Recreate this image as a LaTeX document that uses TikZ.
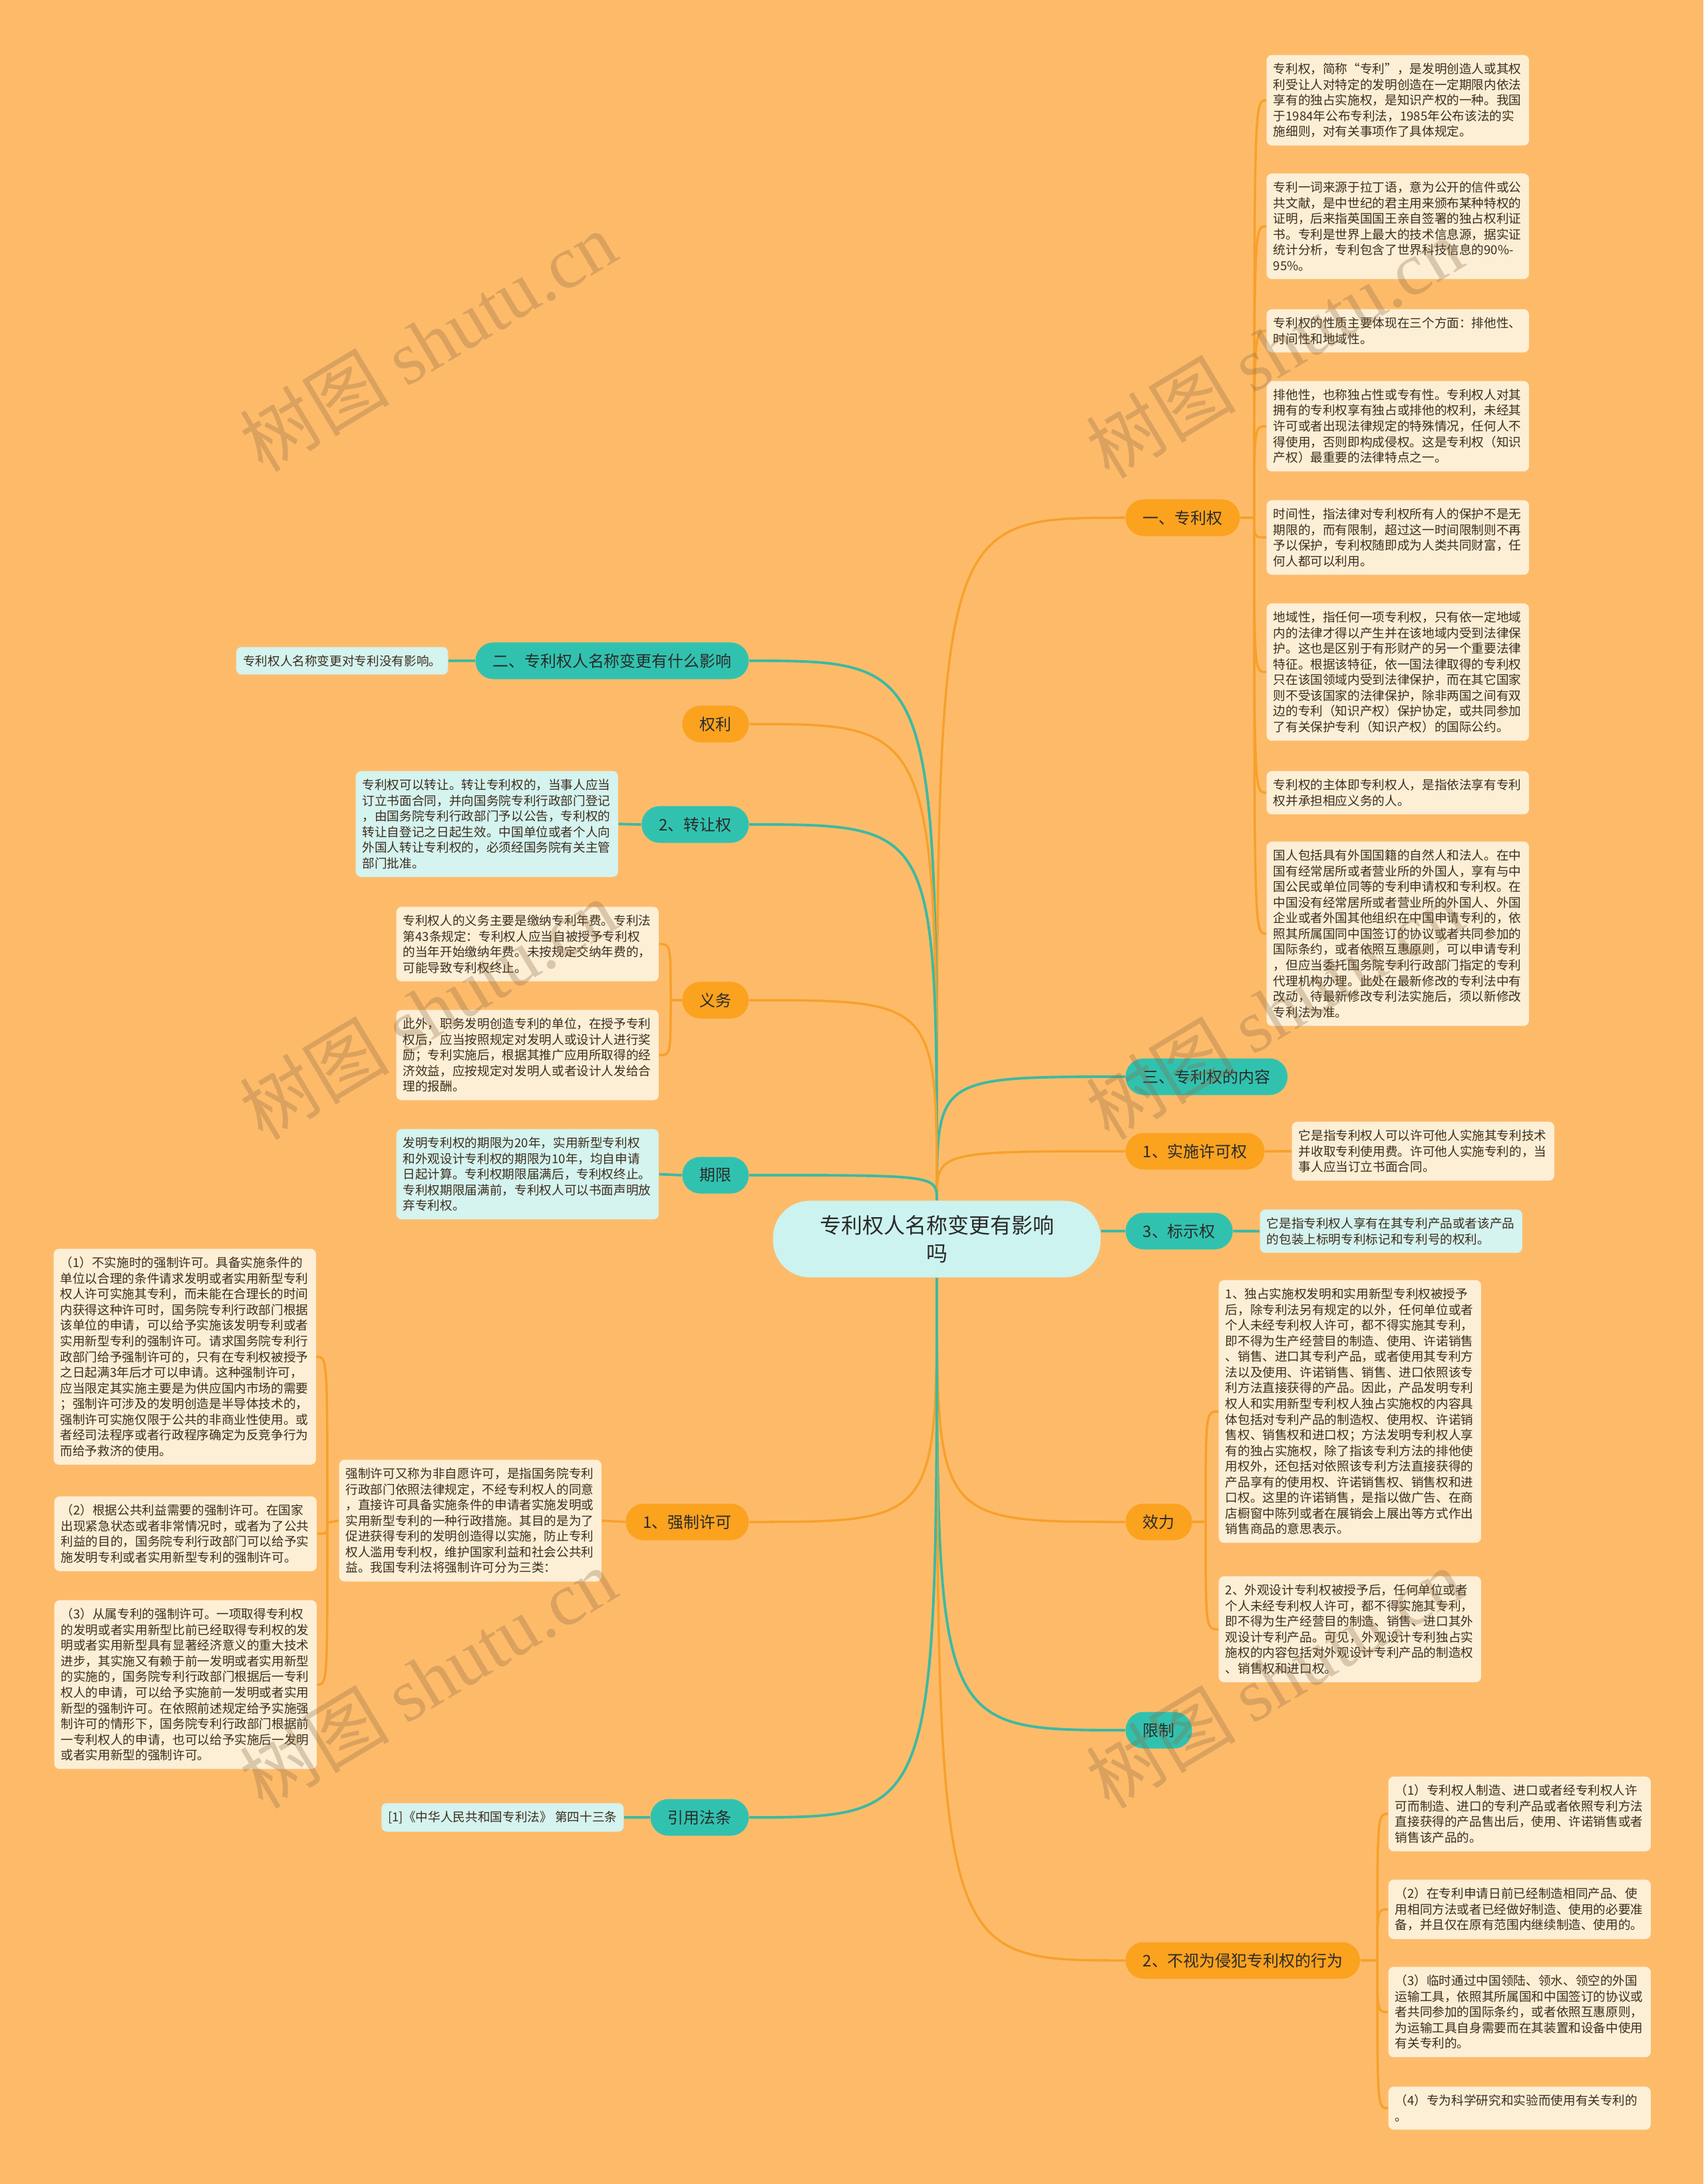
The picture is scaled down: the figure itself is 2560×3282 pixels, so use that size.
\documentclass[tikz,border=0pt]{standalone}
\usepackage{fontspec}
\setmainfont{Noto Sans CJK SC}
\newfontfamily\markfont{Liberation Serif}
\usepackage{tikz}
\usetikzlibrary{calc}
\definecolor{MapBg}{HTML}{FDBB6A}
\definecolor{MapOrange}{HTML}{FBA21F}
\definecolor{MapTeal}{HTML}{31C2AF}
\definecolor{LineOrange}{HTML}{F7A12B}
\definecolor{LineTeal}{HTML}{3CB9A3}
\definecolor{NoteCream}{HTML}{FDEFD6}
\definecolor{NoteCyan}{HTML}{D5F3EF}
\definecolor{RootFill}{HTML}{CCF3EF}
\definecolor{MapInk}{HTML}{2A2A2A}
\definecolor{NoteInk}{HTML}{3B2E1E}
\definecolor{MarkInk}{HTML}{8B6B45}
\tikzset{
  olink/.style={line width=1pt, draw=LineOrange},
  tlink/.style={line width=1.1pt, draw=LineTeal},
  root/.style={rounded corners=0.55cm, fill=RootFill, minimum width=4.92cm, minimum height=1.15cm,
               align=center, text=MapInk, font=\fontsize{9.1}{12}\selectfont},
  branch/.style={rounded corners=0.27cm, minimum height=0.55cm, inner xsep=0.26cm, inner ysep=0pt,
                 text=MapInk, font=\fontsize{6.8}{8}\selectfont},
  obranch/.style={branch, fill=MapOrange},
  tbranch/.style={branch, fill=MapTeal},
  note/.style={rounded corners=0.08cm, text width=3.74cm, inner xsep=0.1cm, inner ysep=0.12cm,
               align=left, text=NoteInk, font=\fontsize{5.3}{6.7}\selectfont},
  cnote/.style={note, fill=NoteCream},
  tnote/.style={note, fill=NoteCyan},
  wmark/.style={rotate=31, text=MarkInk, opacity=0.3, font=\fontsize{32}{32}\selectfont},
}
\begin{document}
\begin{tikzpicture}[x=0.01cm,y=-0.01cm]
    \fill[MapBg] (0,0) rectangle (2560,3282);
    \useasboundingbox (0,0) rectangle (2560,3282);

    \node[root] (c) at (1408,1862) {专利权人名称变更有影响\\吗};

    \node[obranch,anchor=west] (zl) at (1691,778) {一、专利权};
    \node[tbranch,anchor=west] (nr) at (1691,1618) {三、专利权的内容};
    \node[obranch,anchor=west] (sx) at (1691,1730) {1、实施许可权};
    \node[tbranch,anchor=west] (bs) at (1691,1850) {3、标示权};
    \node[obranch,anchor=west] (xl) at (1691,2287) {效力};
    \node[tbranch,anchor=west] (xz) at (1691,2600) {限制};
    \node[obranch,anchor=west] (bq) at (1691,2946) {2、不视为侵犯专利权的行为};

    \node[tbranch,anchor=east] (er) at (1126,993) {二、专利权人名称变更有什么影响};
    \node[obranch,anchor=east] (ql) at (1126,1088) {权利};
    \node[tbranch,anchor=east] (zr) at (1126,1239) {2、转让权};
    \node[obranch,anchor=east] (yw) at (1126,1503) {义务};
    \node[tbranch,anchor=east] (qx) at (1126,1766) {期限};
    \node[obranch,anchor=east] (qz) at (1126,2287) {1、强制许可};
    \node[tbranch,anchor=east] (yy) at (1126,2731) {引用法条};

    \node[cnote,anchor=north west] (n1) at (1903,82) {专利权，简称“专利”，是发明创造人或其权\\利受让人对特定的发明创造在一定期限内依法\\享有的独占实施权，是知识产权的一种。我国\\于1984年公布专利法，1985年公布该法的实\\施细则，对有关事项作了具体规定。};
    \node[cnote,anchor=north west] (n2) at (1903,260) {专利一词来源于拉丁语，意为公开的信件或公\\共文献，是中世纪的君主用来颁布某种特权的\\证明，后来指英国国王亲自签署的独占权利证\\书。专利是世界上最大的技术信息源，据实证\\统计分析，专利包含了世界科技信息的90\%-\\95\%。};
    \node[cnote,anchor=north west] (n3) at (1903,464) {专利权的性质主要体现在三个方面：排他性、\\时间性和地域性。};
    \node[cnote,anchor=north west] (n4) at (1903,572) {排他性，也称独占性或专有性。专利权人对其\\拥有的专利权享有独占或排他的权利，未经其\\许可或者出现法律规定的特殊情况，任何人不\\得使用，否则即构成侵权。这是专利权（知识\\产权）最重要的法律特点之一。};
    \node[cnote,anchor=north west] (n5) at (1903,751) {时间性，指法律对专利权所有人的保护不是无\\期限的，而有限制，超过这一时间限制则不再\\予以保护，专利权随即成为人类共同财富，任\\何人都可以利用。};
    \node[cnote,anchor=north west] (n6) at (1903,906) {地域性，指任何一项专利权，只有依一定地域\\内的法律才得以产生并在该地域内受到法律保\\护。这也是区别于有形财产的另一个重要法律\\特征。根据该特征，依一国法律取得的专利权\\只在该国领域内受到法律保护，而在其它国家\\则不受该国家的法律保护，除非两国之间有双\\边的专利（知识产权）保护协定，或共同参加\\了有关保护专利（知识产权）的国际公约。};
    \node[cnote,anchor=north west] (n7) at (1903,1158) {专利权的主体即专利权人，是指依法享有专利\\权并承担相应义务的人。};
    \node[cnote,anchor=north west] (n8) at (1903,1264) {国人包括具有外国国籍的自然人和法人。在中\\国有经常居所或者营业所的外国人，享有与中\\国公民或单位同等的专利申请权和专利权。在\\中国没有经常居所或者营业所的外国人、外国\\企业或者外国其他组织在中国申请专利的，依\\照其所属国同中国签订的协议或者共同参加的\\国际条约，或者依照互惠原则，可以申请专利\\，但应当委托国务院专利行政部门指定的专利\\代理机构办理。此处在最新修改的专利法中有\\改动，待最新修改专利法实施后，须以新修改\\专利法为准。};

    \node[cnote,anchor=north west] (sxn) at (1941,1685) {它是指专利权人可以许可他人实施其专利技术\\并收取专利使用费。许可他人实施专利的，当\\事人应当订立书面合同。};
    \node[tnote,anchor=north west] (bsn) at (1893,1817) {它是指专利权人享有在其专利产品或者该产品\\的包装上标明专利标记和专利号的权利。};
    \node[cnote,anchor=north west] (x1) at (1831,1923) {1、独占实施权发明和实用新型专利权被授予\\后，除专利法另有规定的以外，任何单位或者\\个人未经专利权人许可，都不得实施其专利，\\即不得为生产经营目的制造、使用、许诺销售\\、销售、进口其专利产品，或者使用其专利方\\法以及使用、许诺销售、销售、进口依照该专\\利方法直接获得的产品。因此，产品发明专利\\权人和实用新型专利权人独占实施权的内容具\\体包括对专利产品的制造权、使用权、许诺销\\售权、销售权和进口权；方法发明专利权人享\\有的独占实施权，除了指该专利方法的排他使\\用权外，还包括对依照该专利方法直接获得的\\产品享有的使用权、许诺销售权、销售权和进\\口权。这里的许诺销售，是指以做广告、在商\\店橱窗中陈列或者在展销会上展出等方式作出\\销售商品的意思表示。};
    \node[cnote,anchor=north west] (x2) at (1831,2368) {2、外观设计专利权被授予后，任何单位或者\\个人未经专利权人许可，都不得实施其专利，\\即不得为生产经营目的制造、销售、进口其外\\观设计专利产品。可见，外观设计专利独占实\\施权的内容包括对外观设计专利产品的制造权\\、销售权和进口权。};
    \node[cnote,anchor=north west] (t1) at (2086,2669) {（1）专利权人制造、进口或者经专利权人许\\可而制造、进口的专利产品或者依照专利方法\\直接获得的产品售出后，使用、许诺销售或者\\销售该产品的。};
    \node[cnote,anchor=north west] (t2) at (2086,2824) {（2）在专利申请日前已经制造相同产品、使\\用相同方法或者已经做好制造、使用的必要准\\备，并且仅在原有范围内继续制造、使用的。};
    \node[cnote,anchor=north west] (t3) at (2086,2955) {（3）临时通过中国领陆、领水、领空的外国\\运输工具，依照其所属国和中国签订的协议或\\者共同参加的国际条约，或者依照互惠原则，\\为运输工具自身需要而在其装置和设备中使用\\有关专利的。};
    \node[cnote,anchor=north west] (t4) at (2086,3135) {（4）专为科学研究和实验而使用有关专利的\\。};

    \node[tnote,text width=,anchor=east] (ern) at (674,993) {专利权人名称变更对专利没有影响。};
    \node[tnote,anchor=north west] (zrn) at (534,1158) {专利权可以转让。转让专利权的，当事人应当\\订立书面合同，并向国务院专利行政部门登记\\，由国务院专利行政部门予以公告，专利权的\\转让自登记之日起生效。中国单位或者个人向\\外国人转让专利权的，必须经国务院有关主管\\部门批准。};
    \node[cnote,anchor=north west] (yw1) at (595,1362) {专利权人的义务主要是缴纳专利年费。专利法\\第43条规定：专利权人应当自被授予专利权\\的当年开始缴纳年费。未按规定交纳年费的，\\可能导致专利权终止。};
    \node[cnote,anchor=north west] (yw2) at (595,1517) {此外，职务发明创造专利的单位，在授予专利\\权后，应当按照规定对发明人或设计人进行奖\\励；专利实施后，根据其推广应用所取得的经\\济效益，应按规定对发明人或者设计人发给合\\理的报酬。};
    \node[tnote,anchor=north west] (qxn) at (595,1696) {发明专利权的期限为20年，实用新型专利权\\和外观设计专利权的期限为10年，均自申请\\日起计算。专利权期限届满后，专利权终止。\\专利权期限届满前，专利权人可以书面声明放\\弃专利权。};
    \node[cnote,anchor=north west] (qzm) at (509,2193) {强制许可又称为非自愿许可，是指国务院专利\\行政部门依照法律规定，不经专利权人的同意\\，直接许可具备实施条件的申请者实施发明或\\实用新型专利的一种行政措施。其目的是为了\\促进获得专利的发明创造得以实施，防止专利\\权人滥用专利权，维护国家利益和社会公共利\\益。我国专利法将强制许可分为三类：};
    \node[cnote,anchor=north west] (s1) at (80,1876) {（1）不实施时的强制许可。具备实施条件的\\单位以合理的条件请求发明或者实用新型专利\\权人许可实施其专利，而未能在合理长的时间\\内获得这种许可时，国务院专利行政部门根据\\该单位的申请，可以给予实施该发明专利或者\\实用新型专利的强制许可。请求国务院专利行\\政部门给予强制许可的，只有在专利权被授予\\之日起满3年后才可以申请。这种强制许可，\\应当限定其实施主要是为供应国内市场的需要\\；强制许可涉及的发明创造是半导体技术的，\\强制许可实施仅限于公共的非商业性使用。或\\者经司法程序或者行政程序确定为反竞争行为\\而给予救济的使用。};
    \node[cnote,anchor=north west] (s2) at (81,2248) {（2）根据公共利益需要的强制许可。在国家\\出现紧急状态或者非常情况时，或者为了公共\\利益的目的，国务院专利行政部门可以给予实\\施发明专利或者实用新型专利的强制许可。};
    \node[cnote,anchor=north west] (s3) at (81,2404) {（3）从属专利的强制许可。一项取得专利权\\的发明或者实用新型比前已经取得专利权的发\\明或者实用新型具有显著经济意义的重大技术\\进步，其实施又有赖于前一发明或者实用新型\\的实施的，国务院专利行政部门根据后一专利\\权人的申请，可以给予实施前一发明或者实用\\新型的强制许可。在依照前述规定给予实施强\\制许可的情形下，国务院专利行政部门根据前\\一专利权人的申请，也可以给予实施后一发明\\或者实用新型的强制许可。};
    \node[tnote,text width=,anchor=east] (yyn) at (938,2731) {[1]《中华人民共和国专利法》 第四十三条};

    \coordinate (zlJ) at (1885,778);
    \coordinate (ywJ) at (1008,1503);
    \coordinate (qzJ) at (492,2288);
    \coordinate (xlJ) at (1812,2287);
    \coordinate (bqJ) at (2070,2946);

    \draw[olink] (c.north) .. controls (c.north |- zl.west) .. (zl.west);
    \draw[tlink] (c.north) .. controls (c.north |- nr.west) .. (nr.west);
    \draw[olink] (c.north) .. controls (c.north |- sx.west) .. (sx.west);
    \draw[tlink] (c.east |- bs.west) -- (bs.west);
    \draw[olink] (c.south) .. controls (c.south |- xl.west) .. (xl.west);
    \draw[tlink] (c.south) .. controls (c.south |- xz.west) .. (xz.west);
    \draw[olink] (c.south) .. controls (c.south |- bq.west) .. (bq.west);
    \draw[tlink] (c.north) .. controls (c.north |- er.east) .. (er.east);
    \draw[olink] (c.north) .. controls (c.north |- ql.east) .. (ql.east);
    \draw[tlink] (c.north) .. controls (c.north |- zr.east) .. (zr.east);
    \draw[olink] (c.north) .. controls (c.north |- yw.east) .. (yw.east);
    \draw[tlink] (c.north) .. controls (c.north |- qx.east) .. (qx.east);
    \draw[olink] (c.south) .. controls (c.south |- qz.east) .. (qz.east);
    \draw[tlink] (c.south) .. controls (c.south |- yy.east) .. (yy.east);

    \draw[olink] (zl.east) -- (zlJ);
    \draw[olink] (zlJ) .. controls (zlJ |- n1.west) .. (n1.west);
    \draw[olink] (zlJ) .. controls (zlJ |- n2.west) .. (n2.west);
    \draw[olink] (zlJ) .. controls (zlJ |- n3.west) .. (n3.west);
    \draw[olink] (zlJ) .. controls (zlJ |- n4.west) .. (n4.west);
    \draw[olink] (zlJ) .. controls (zlJ |- n5.west) .. (n5.west);
    \draw[olink] (zlJ) .. controls (zlJ |- n6.west) .. (n6.west);
    \draw[olink] (zlJ) .. controls (zlJ |- n7.west) .. (n7.west);
    \draw[olink] (zlJ) .. controls (zlJ |- n8.west) .. (n8.west);
    \draw[olink] (sx.east) -- (sxn.west);
    \draw[tlink] (bs.east) -- (bsn.west);
    \draw[olink] (xl.east) -- (xlJ);
    \draw[olink] (xlJ) .. controls (xlJ |- x1.west) .. (x1.west);
    \draw[olink] (xlJ) .. controls (xlJ |- x2.west) .. (x2.west);
    \draw[olink] (bq.east) -- (bqJ);
    \draw[olink] (bqJ) .. controls (bqJ |- t1.west) .. (t1.west);
    \draw[olink] (bqJ) .. controls (bqJ |- t2.west) .. (t2.west);
    \draw[olink] (bqJ) .. controls (bqJ |- t3.west) .. (t3.west);
    \draw[olink] (bqJ) .. controls (bqJ |- t4.west) .. (t4.west);

    \draw[tlink] (er.west) -- (ern.east);
    \draw[tlink] (zr.west) -- (zrn.east);
    \draw[olink] (yw.west) -- (ywJ);
    \draw[olink] (ywJ) .. controls (ywJ |- yw1.east) .. (yw1.east);
    \draw[olink] (ywJ) .. controls (ywJ |- yw2.east) .. (yw2.east);
    \draw[tlink] (qx.west) -- (qxn.east);
    \draw[olink] (qz.west) -- (qzm.east);
    \draw[olink] (qzm.west) -- (qzJ);
    \draw[olink] (qzJ) .. controls (qzJ |- s1.east) .. (s1.east);
    \draw[olink] (qzJ) .. controls (qzJ |- s2.east) .. (s2.east);
    \draw[olink] (qzJ) .. controls (qzJ |- s3.east) .. (s3.east);
    \draw[tlink] (yy.west) -- (yyn.east);

    \node[wmark] (wm1) at (643,513) {树图 {\markfont shutu.cn}};
    \node[wmark] (wm2) at (1915,523) {树图 {\markfont shutu.cn}};
    \node[wmark] (wm3) at (643,1517) {树图 {\markfont shutu.cn}};
    \node[wmark] (wm4) at (1915,1517) {树图 {\markfont shutu.cn}};
    \node[wmark] (wm5) at (643,2522) {树图 {\markfont shutu.cn}};
    \node[wmark] (wm6) at (1915,2522) {树图 {\markfont shutu.cn}};
\end{tikzpicture}
\end{document}
